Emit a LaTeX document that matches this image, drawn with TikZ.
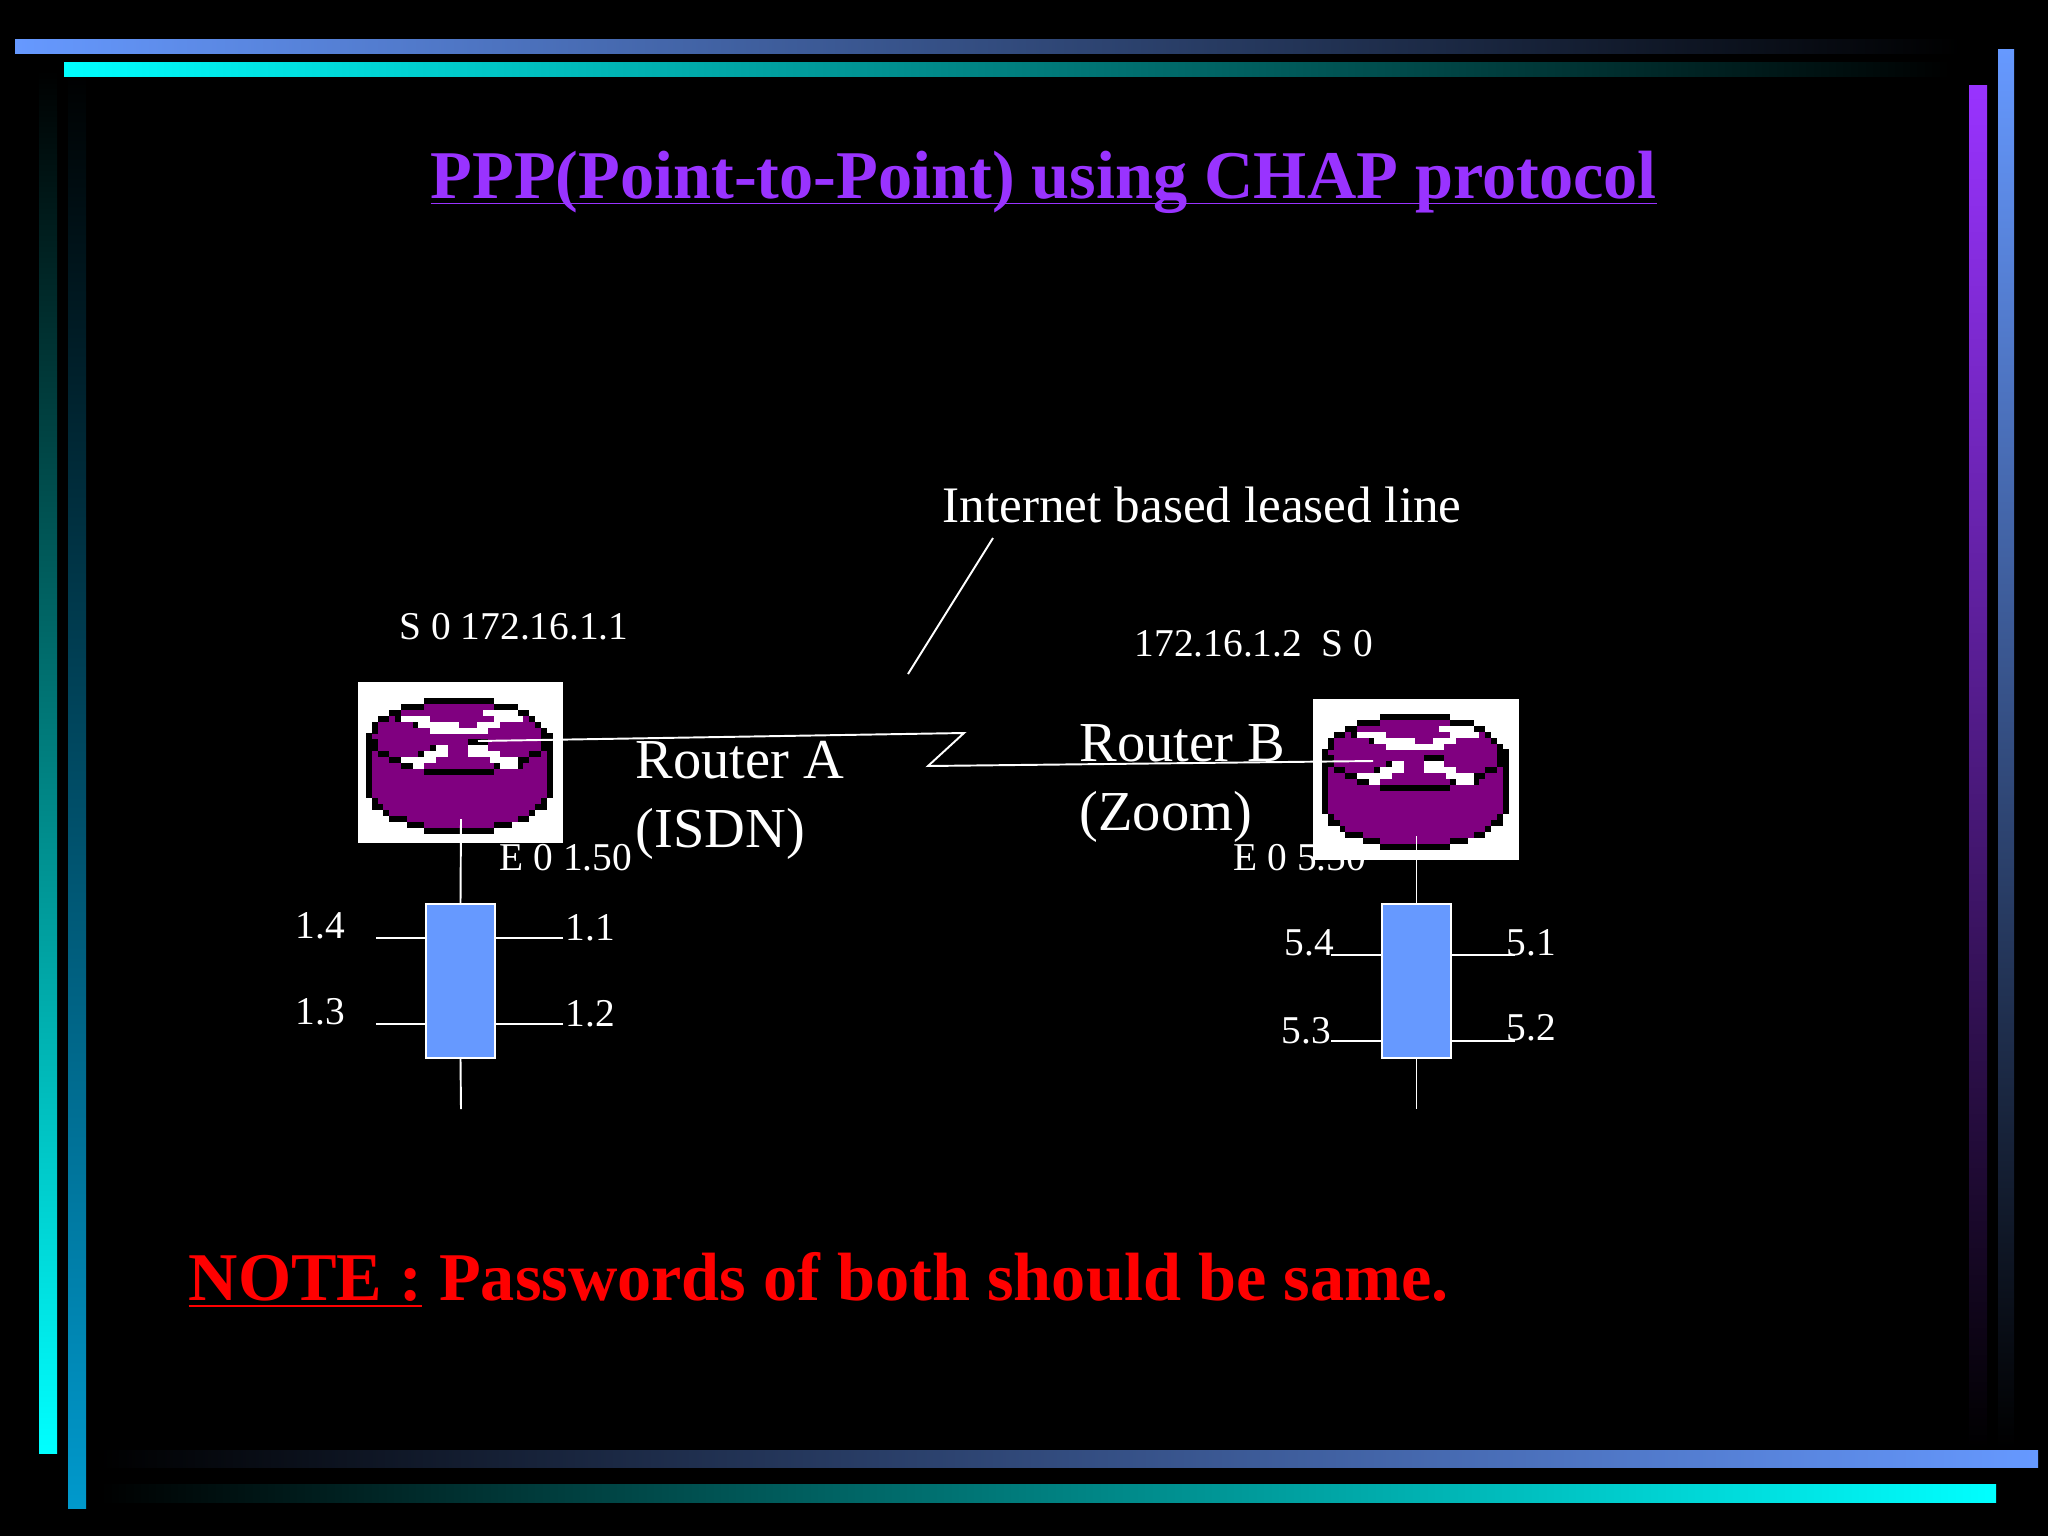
\documentclass[tikz,border=0pt]{standalone}
\usepackage{fontspec}
\setmainfont{Liberation Serif}
\usetikzlibrary{positioning}
\definecolor{barblue}{HTML}{6699FF}
\definecolor{barcyan}{HTML}{00FFFF}
\definecolor{barteal}{HTML}{0099CC}
\definecolor{barpurple}{HTML}{9933FF}
\definecolor{routerpurple}{HTML}{800080}

\begin{document}
\begin{tikzpicture}[x=0.01cm, y=-0.01cm,
    wire/.style={draw=white, line width=0.55pt},
    smalllbl/.style={text=white, font=\fontsize{11.2}{13}\selectfont, anchor=base west, inner sep=0pt},
    routerlbl/.style={text=white, font=\fontsize{16.05}{19}\selectfont, anchor=base west, inner sep=0pt},
    headlbl/.style={font=\fontsize{19.42}{23}\selectfont\bfseries, anchor=base west, inner sep=0pt},
    routerbox/.style={fill=white, minimum width=2.05cm, minimum height=1.61cm, inner sep=0pt},
    hubbox/.style={draw=white, fill=barblue, line width=0.55pt, minimum width=0.69cm, minimum height=1.54cm, inner sep=0pt},
    routericon/.pic={
      \foreach \r/\a/\b in {1/10/22,2/6/20,3/4/5,3/11/22,3/27/28,4/2/8,4/16/19,4/23/29,5/2/11,5/21/30,6/1/30,7/2/17.5,7/21/30,
          8/2/11,8/14/17.5,8/21/30,9/1/2,9/4/9,9/14/17.5,9/23/28,9/30/31,10/1/4,10/12/21.3,10/28/31,11/1/6,11/10/22,11/27/31,12/1/10,12/22/31,
          13/1/31,14/1/31,15/1/31,16/1/31,17/2/30,18/3/29,19/4/28,20/7/26,21/10/22}
        \fill[routerpurple] (\a*5.83,\r*5.9) rectangle (\b*5.83,\r*5.9+6);
      \foreach \r/\a/\b in {0/10/22,1/6/10,1/22/26,2/4/6,2/26/28,3/2/4,3/5/6,3/28/29,4/1/2,4/8/9,4/29/30,5/1/2,5/30/31,
          6/0/1,6/30/32,7/0/2,7/17.5/21,7/30/32,8/0/2,8/11/12,8/30/32,9/0/1,9/2/4,9/9/10,9/28/30,9/31/32,10/0/1,10/4/6,10/26/28,10/31/32,
          11/0/1,11/6/8,11/22/23,11/26/27,11/31/32,12/0/1,12/10/22,12/31/32,13/0/1,13/31/32,14/0/1,14/31/32,15/0/1,15/31/32,16/0/1,16/31/32,
          17/1/2,17/30/31,18/1/3,18/29/31,19/3/4,19/28/29,20/4/7,20/26/28,21/7/10,21/22/25,22/10/22}
        \fill[black] (\a*5.83,\r*5.9) rectangle (\b*5.83,\r*5.9+6);
      \foreach \r/\a/\b in {2/20/26,3/6/11,3/22/27,4/9/16,4/19/23,5/11/21,8/12/14,8/17.5/21,9/10/14,9/17.5/23,10/6/12,10/21.3/26,11/8/10,11/23/26}
        \fill[white] (\a*5.83,\r*5.9) rectangle (\b*5.83,\r*5.9+6);
    }]

  \useasboundingbox (0,0) rectangle (2048,1536);
  \fill[black] (0,0) rectangle (2048,1536);

  \fill[top color=black, bottom color=barcyan] (39,70) rectangle (57,1453);
  \fill[top color=black, bottom color=barteal] (68,70) rectangle (86,1508);
  \fill[left color=barblue, right color=black] (15,39) rectangle (1960,53);
  \fill[left color=barcyan, right color=black] (64,62) rectangle (1950,76);
  \fill[top color=barpurple, bottom color=black] (1969,85) rectangle (1987,1448);
  \fill[top color=barblue, bottom color=black] (1998,49) rectangle (2014,1448);
  \fill[left color=black, right color=barblue] (100,1450) rectangle (2038,1467);
  \fill[left color=black, right color=barcyan] (100,1484) rectangle (1996,1502);

  \node[headlbl, text=barpurple] (title) at (430,198.5) {\underline{\smash{PPP(Point-to-Point) using CHAP protocol}}};
  \node[headlbl, text=red] (note) at (188,1300) {\underline{NOTE :} Passwords of both should be same.};

  \node[routerbox] (routerA) at (460.5,762.5) {};
  \node[routerbox] (routerB) at (1416,779.5) {};
  \pic at (366,698) {routericon};
  \pic at (1322,714) {routericon};

  \node[hubbox] (hubA) at (460.5,981) {};
  \node[hubbox] (hubB) at (1416.5,981) {};

  \coordinate (lineA) at (478,741);
  \coordinate (bendtop) at (964,733);
  \coordinate (bendlow) at (928,766);
  \coordinate (lineB) at (1373,761);
  \draw[wire] (lineA) -- (bendtop) -- (bendlow) -- (lineB);

  \coordinate (leaderup) at (993,538);
  \coordinate (leaderlow) at (908,674);
  \draw[wire] (leaderup) -- (leaderlow);

  \coordinate (topA) at (461,819);
  \coordinate (endA) at (461,1109);
  \coordinate (topB) at (1416.5,836);
  \coordinate (endB) at (1416.5,1109);
  \draw[wire] (topA) -- (hubA.north) (hubA.south) -- (endA);
  \draw[wire] (topB) -- (hubB.north) (hubB.south) -- (endB);

  \foreach \n/\px/\py/\side in {a4/376/938/west, a1/563/938/east, a3/376/1024/west, a2/563/1024/east}{
    \coordinate (\n) at (\px,\py);
    \draw[wire] (\n) -- (\n -| hubA.\side);
  }
  \foreach \n/\px/\py/\side in {b4/1331/955/west, b1/1515/955/east, b3/1331/1041/west, b2/1515/1041/east}{
    \coordinate (\n) at (\px,\py);
    \draw[wire] (\n) -- (\n -| hubB.\side);
  }

  \node[routerlbl] (nameA) at (635,778) {Router A};
  \node[routerlbl] (ispA) at (635,847) {(ISDN)};
  \node[routerlbl] (nameB) at (1079,761) {Router B};
  \node[routerlbl] (ispB) at (1079,830) {(Zoom)};

  \node[text=white, font=\fontsize{14.56}{17}\selectfont, anchor=base west, inner sep=0pt] (leased) at (942,522) {Internet based leased line};

  \node[smalllbl] (serialA) at (399,639) {S 0 172.16.1.1};
  \node[smalllbl] (serialB) at (1134,656) {172.16.1.2\ \ S 0};
  \node[smalllbl] (etherA) at (499,870) {E 0 1.50};
  \node[smalllbl] (etherB) at (1233,870) {E 0 5.50};

  \node[smalllbl] (port14) at (295,938) {1.4};
  \node[smalllbl] (port13) at (295,1024) {1.3};
  \node[smalllbl] (port11) at (565,940) {1.1};
  \node[smalllbl] (port12) at (565,1026) {1.2};
  \node[smalllbl] (port54) at (1284,955) {5.4};
  \node[smalllbl] (port53) at (1281,1043) {5.3};
  \node[smalllbl] (port51) at (1506,955) {5.1};
  \node[smalllbl] (port52) at (1506,1040) {5.2};

\end{tikzpicture}
\end{document}
